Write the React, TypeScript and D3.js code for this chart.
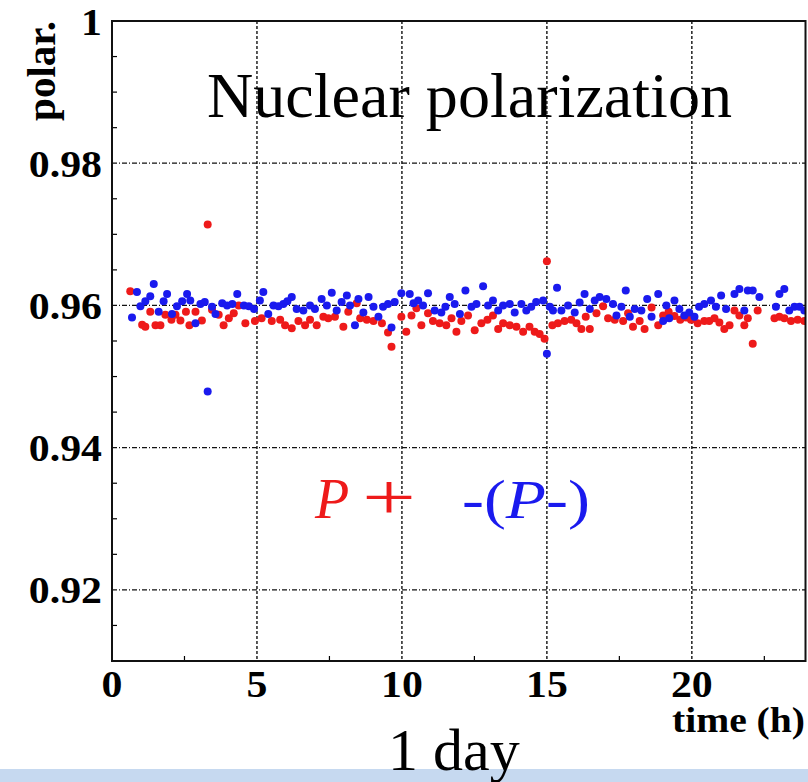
import React from "react";
import * as d3 from "d3";

// P+ (red): [time (h), polarization]
const pPlus: [number, number][] = [
  [0.63, 0.962], [1.04, 0.9573], [1.15, 0.957], [1.32, 0.9591], [1.5, 0.9572], [1.67, 0.9572],
  [1.84, 0.9587], [2.05, 0.958], [2.19, 0.9587], [2.36, 0.9579], [2.55, 0.9591], [2.67, 0.9572],
  [2.88, 0.9591], [3.1, 0.9579], [3.3, 0.9714], [3.45, 0.9594], [3.68, 0.9587], [3.85, 0.9572],
  [4.03, 0.9582], [4.2, 0.9589], [4.37, 0.96], [4.6, 0.9575], [4.93, 0.9578], [5.16, 0.9582],
  [5.51, 0.9578], [5.8, 0.958], [5.97, 0.9572], [6.2, 0.9568], [6.43, 0.9578], [6.66, 0.9572],
  [6.83, 0.958], [7.06, 0.9572], [7.29, 0.9584], [7.46, 0.9582], [7.69, 0.9584], [7.98, 0.957],
  [8.15, 0.9591], [8.44, 0.9603], [8.56, 0.9582], [8.79, 0.958], [9.02, 0.9578], [9.31, 0.9575],
  [9.52, 0.9562], [9.64, 0.9542], [9.98, 0.9584], [10.15, 0.9563], [10.33, 0.9586], [10.5, 0.9596],
  [10.67, 0.9572], [10.9, 0.9589], [11.07, 0.9578], [11.3, 0.9575], [11.53, 0.9572], [11.71, 0.9582],
  [11.88, 0.9563], [12.05, 0.9578], [12.28, 0.9586], [12.51, 0.9565], [12.74, 0.9575], [12.95, 0.958],
  [13.14, 0.9586], [13.32, 0.9567], [13.49, 0.9575], [13.72, 0.9572], [13.95, 0.957], [14.18, 0.9563],
  [14.4, 0.957], [14.58, 0.9563], [14.75, 0.956], [14.92, 0.9553], [15.0, 0.9662], [15.19, 0.9572],
  [15.38, 0.9575], [15.61, 0.9578], [15.84, 0.958], [16.02, 0.9575], [16.19, 0.9567], [16.34, 0.9584],
  [16.48, 0.9567], [16.71, 0.9589], [16.94, 0.9599], [17.11, 0.9582], [17.34, 0.958], [17.63, 0.9578],
  [17.8, 0.9589], [17.97, 0.957], [18.2, 0.9578], [18.37, 0.9567], [18.61, 0.9597], [18.84, 0.9572],
  [19.01, 0.9586], [19.2, 0.9591], [19.4, 0.9585], [19.6, 0.958], [19.8, 0.9583], [19.97, 0.958],
  [20.2, 0.9575], [20.43, 0.9578], [20.6, 0.9578], [20.78, 0.9582], [20.95, 0.9576], [21.12, 0.9567],
  [21.3, 0.9572], [21.47, 0.9593], [21.64, 0.9586], [21.81, 0.9572], [21.93, 0.9582], [22.1, 0.9546],
  [22.27, 0.9593], [22.85, 0.9582], [23.02, 0.9584], [23.19, 0.9582], [23.42, 0.9578], [23.65, 0.958],
  [23.88, 0.9578],
];

// -(P-) (blue): [time (h), polarization]
const pMinus: [number, number][] = [
  [0.69, 0.9583], [0.86, 0.9619], [0.98, 0.9599], [1.15, 0.9606], [1.32, 0.9613], [1.44, 0.963],
  [1.61, 0.9591], [1.78, 0.9606], [1.9, 0.9616], [2.07, 0.9588], [2.24, 0.9599], [2.42, 0.9606],
  [2.59, 0.9616], [2.7, 0.9607], [2.88, 0.9575], [3.05, 0.9602], [3.2, 0.9605], [3.3, 0.9479],
  [3.45, 0.9598], [3.57, 0.9588], [3.8, 0.9603], [3.97, 0.96], [4.15, 0.9602], [4.32, 0.9616],
  [4.55, 0.96], [4.72, 0.9599], [4.9, 0.9595], [5.1, 0.9607], [5.22, 0.9619], [5.39, 0.9588],
  [5.57, 0.96], [5.74, 0.9599], [5.91, 0.9602], [6.05, 0.9606], [6.2, 0.9612], [6.37, 0.9595],
  [6.6, 0.9593], [6.83, 0.96], [7.0, 0.9595], [7.23, 0.9609], [7.41, 0.96], [7.58, 0.9618],
  [7.75, 0.9593], [7.92, 0.9605], [8.1, 0.9614], [8.21, 0.96], [8.38, 0.9572], [8.5, 0.9609],
  [8.67, 0.959], [8.85, 0.9612], [9.02, 0.9598], [9.19, 0.9584], [9.35, 0.9598], [9.52, 0.9602],
  [9.64, 0.9569], [9.75, 0.9605], [9.98, 0.9617], [10.27, 0.9616], [10.4, 0.9603], [10.56, 0.9607],
  [10.73, 0.96], [10.9, 0.9617], [11.13, 0.9593], [11.36, 0.959], [11.5, 0.9598], [11.65, 0.9612],
  [11.82, 0.9602], [12.0, 0.9588], [12.19, 0.9621], [12.4, 0.9598], [12.57, 0.9602], [12.8, 0.9627],
  [12.97, 0.96], [13.14, 0.9607], [13.32, 0.9593], [13.49, 0.96], [13.72, 0.9602], [13.89, 0.959],
  [14.12, 0.9602], [14.29, 0.9593], [14.46, 0.9598], [14.63, 0.9605], [14.87, 0.9607], [15.0, 0.9532],
  [15.1, 0.9598], [15.21, 0.9593], [15.35, 0.9625], [15.5, 0.9593], [15.73, 0.96], [15.96, 0.959],
  [16.13, 0.9604], [16.3, 0.9616], [16.48, 0.9595], [16.65, 0.9607], [16.82, 0.9612], [17.05, 0.9609],
  [17.28, 0.9602], [17.4, 0.9586], [17.57, 0.9598], [17.72, 0.9621], [17.86, 0.9584], [18.03, 0.9595],
  [18.26, 0.9593], [18.46, 0.9609], [18.61, 0.9584], [18.84, 0.9616], [19.01, 0.9578], [19.12, 0.96],
  [19.22, 0.9582], [19.4, 0.9607], [19.57, 0.9595], [19.74, 0.9586], [19.91, 0.959], [20.09, 0.9584],
  [20.25, 0.9598], [20.43, 0.9602], [20.66, 0.9607], [20.83, 0.9598], [21.01, 0.9614], [21.18, 0.9595],
  [21.47, 0.9616], [21.64, 0.9623], [21.81, 0.9593], [21.93, 0.9621], [22.1, 0.9621], [22.33, 0.9612],
  [22.9, 0.9598], [23.02, 0.9616], [23.19, 0.9623], [23.36, 0.9593], [23.54, 0.9598], [23.71, 0.9598],
  [23.88, 0.9593],
];

const xMajorTicks = [0, 5, 10, 15, 20];
const xMinorTicks = [2.5, 7.5, 12.5, 17.5, 22.5];
const yMajorTicks = [0.92, 0.94, 0.96, 0.98, 1.0];
const yTickLabels = ["0.92", "0.94", "0.96", "0.98", "1"];
const yMinorTicks = [0.915, 0.925, 0.93, 0.935, 0.945, 0.95, 0.955, 0.965, 0.97, 0.975, 0.985, 0.99, 0.995];

const W = 808;
const H = 782;
const left = 112;
const right = 805.5;
const top = 21;
const bottom = 661;

const serif = "'Liberation Serif', 'Times New Roman', serif";
const RED = "#ee1a1a";
const BLUE = "#1a1aee";

export default function App() {
  const x = d3.scaleLinear().domain([0, 23.92]).range([left, right]);
  const y = d3.scaleLinear().domain([0.91, 1.0]).range([bottom, top]);

  return (
    <svg
      width={W}
      height={H}
      style={{ position: "absolute", left: 0, top: 0, background: "#fff" }}
    >
      <rect x={0} y={0} width={W} height={H} fill="#fff" />
      <defs>
        <clipPath id="plot">
          <rect x={left} y={top} width={right - left} height={bottom - top} />
        </clipPath>
      </defs>

      {/* grid */}
      {xMajorTicks.slice(1).map((t) => (
        <line key={"gx" + t} x1={x(t)} x2={x(t)} y1={top} y2={bottom}
          stroke="#111" strokeWidth={1.4} strokeDasharray="3,2" />
      ))}
      {yMajorTicks.slice(0, 4).map((t) => (
        <line key={"gy" + t} x1={left} x2={right} y1={y(t)} y2={y(t)}
          stroke="#111" strokeWidth={1.3} strokeDasharray="5,2,1,2" />
      ))}

      {/* minor ticks */}
      {xMinorTicks.map((t) => (
        <line key={"mx" + t} x1={x(t)} x2={x(t)} y1={bottom} y2={bottom - 5} stroke="#000" strokeWidth={1.2} />
      ))}
      {yMinorTicks.map((t) => (
        <line key={"my" + t} x1={left} x2={left + 5} y1={y(t)} y2={y(t)} stroke="#000" strokeWidth={1.2} />
      ))}

      {/* data */}
      <g clipPath="url(#plot)">
        {pPlus.map(([t, v], i) => (
          <circle key={"r" + i} cx={x(t)} cy={y(v)} r={4} fill={RED} />
        ))}
        {pMinus.map(([t, v], i) => (
          <circle key={"b" + i} cx={x(t)} cy={y(v)} r={4} fill={BLUE} />
        ))}
      </g>

      {/* frame */}
      <rect x={left} y={top} width={right - left} height={bottom - top}
        fill="none" stroke="#111" strokeWidth={2} />

      {/* y tick labels */}
      {yMajorTicks.map((t, i) => (
        <text key={"yl" + t}
          transform={`translate(102,${y(t) + 13.5}) scale(1.1,1)`}
          textAnchor="end" fontFamily={serif} fontWeight="bold" fontSize={38} fill="#000">
          {yTickLabels[i]}
        </text>
      ))}
      {/* x tick labels */}
      {xMajorTicks.map((t) => (
        <text key={"xl" + t}
          transform={`translate(${x(t)},697) scale(1.1,1)`}
          textAnchor="middle" fontFamily={serif} fontWeight="bold" fontSize={38} fill="#000">
          {t}
        </text>
      ))}

      {/* axis titles */}
      <text transform="translate(805,732) scale(1.1,1)" textAnchor="end"
        fontFamily={serif} fontWeight="bold" fontSize={36} fill="#000">time (h)</text>
      <text transform="translate(55,21) rotate(-90)" textAnchor="end"
        fontFamily={serif} fontWeight="bold" fontSize={41} fill="#000">polar.</text>

      {/* title */}
      <text x={207} y={117} fontFamily={serif} fontSize={63} fill="#000"
        textLength={525} lengthAdjust="spacingAndGlyphs">Nuclear polarization</text>

      {/* legend */}
      <text x={315} y={518} fontFamily={serif} fontSize={56} fontStyle="italic" fill={RED}>P</text>
      <text x={362} y={519} fontFamily={serif} fontSize={66} fill={RED}
        textLength={54} lengthAdjust="spacingAndGlyphs">+</text>
      <text x={462} y={518} fontFamily={serif} fontSize={54} fill={BLUE}
        textLength={128} lengthAdjust="spacingAndGlyphs">
        -(<tspan fontStyle="italic">P</tspan>-)
      </text>

      {/* bottom band */}
      <rect x={0} y={769} width={W} height={H - 769} fill="#c6d9f0" />
      <text x={388} y={770} fontFamily={serif} fontSize={60} fill="#000">1 day</text>
    </svg>
  );
}
